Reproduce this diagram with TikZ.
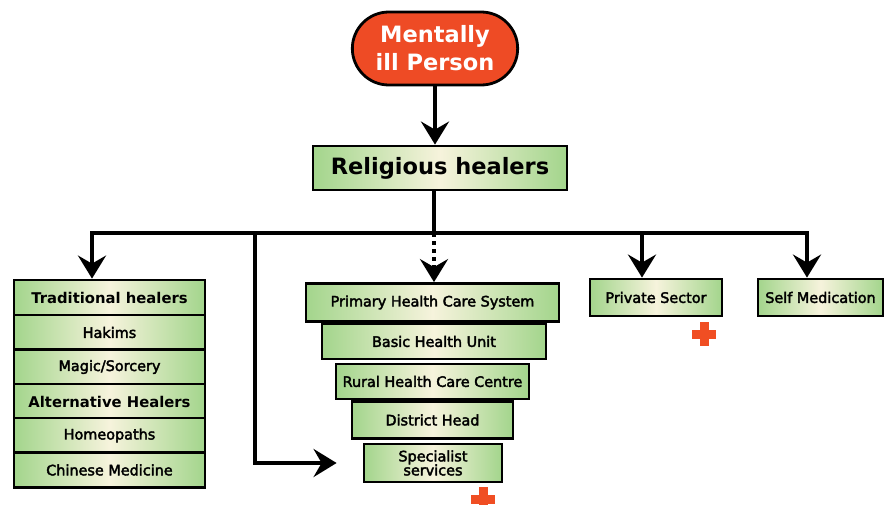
\documentclass[tikz,border=0pt]{standalone}
\usepackage{fontspec}
\setmainfont{DejaVu Sans}
\newfontfamily\medfont[FakeBold=2.6]{DejaVu Sans}
\usetikzlibrary{arrows.meta,shapes.misc,calc}
\definecolor{pillred}{HTML}{EE4B25}
\definecolor{boxgreen}{HTML}{A3D58C}
\definecolor{boxcream}{HTML}{F6F3DC}
\definecolor{crossred}{HTML}{F04E23}
\newcommand{\redplus}[1]{%
  \fill[crossred] ($(#1)+(-12,-4.5)$) rectangle ++(24,9);
  \fill[crossred] ($(#1)+(-4.5,-12)$) rectangle ++(9,24);}

\begin{document}
\begin{tikzpicture}[x=1pt,y=-1pt]
		\useasboundingbox (0,0) rectangle (892,504);
		\tikzstyle{box}=[draw=black,line width=2.8pt,left color=boxgreen,right color=boxgreen,middle color=boxcream,inner sep=0pt,align=center,font=\medfont\fontsize{14.4}{14}\selectfont]
		\tikzstyle{head}=[font=\bfseries\fontsize{14.8}{16}\selectfont]
		\tikzstyle{wire}=[line width=4pt]
		\tikzstyle{link}=[line width=4pt,-{Stealth[length=23pt,width=28pt,inset=8pt]}]
		% top of the chart
		\node[draw=black,line width=2.8pt,fill=pillred,rounded rectangle,minimum width=172pt,minimum height=73pt,text=white,align=center,font=\bfseries\fontsize{22.5}{28}\selectfont] (mip) at (435,48.5) {Mentally\\ill Person};
		\node[box,minimum width=254pt,minimum height=44pt,font=\bfseries\fontsize{22.5}{24}\selectfont] (rel) at (440,168) {Religious healers};
		% traditional and alternative healers
		\node[box,head,minimum width=191pt,minimum height=35pt] (trad) at (109.5,297.5) {Traditional healers};
		\node[box,minimum width=191pt,minimum height=35pt] (hakim) at (109.5,332.5) {Hakims};
		\node[box,minimum width=191pt,minimum height=35pt] (magic) at (109.5,367) {Magic/Sorcery};
		\node[box,head,minimum width=191pt,minimum height=35pt] (alt) at (109.5,401.5) {Alternative Healers};
		\node[box,minimum width=191pt,minimum height=35pt] (homeo) at (109.5,435.5) {Homeopaths};
		\node[box,minimum width=191pt,minimum height=35pt] (chin) at (109.5,470) {Chinese Medicine};
		% health care system
		\node[box,minimum width=253pt,minimum height=38pt] (prim) at (432.5,302.5) {Primary Health Care System};
		\node[box,minimum width=224pt,minimum height=35pt] (bhu) at (434,341.5) {Basic Health Unit};
		\node[box,minimum width=193pt,minimum height=35pt] (rural) at (432.5,381.5) {Rural Health Care Centre};
		\node[box,minimum width=161pt,minimum height=37pt] (dist) at (432.5,420) {District Head};
		\node[box,minimum width=138pt,minimum height=38pt] (spec) at (433,463) {Specialist\\services};
		% others
		\node[box,minimum width=132pt,minimum height=37pt] (priv) at (656,297.5) {Private Sector};
		\node[box,minimum width=125pt,minimum height=37pt] (self) at (820.5,297.5) {Self Medication};
		% connectors
		\coordinate (bar) at (434,233);
		\coordinate (jmid) at (255,233);
		\draw[link] (mip.south) -- (mip.south |- rel.north);
		\draw[wire] (bar |- rel.south) -- (bar);
		\draw[link] (bar) -| ($(trad.north)+(-17.5,0)$);
		\draw[link] (bar) -| ($(priv.north)+(-14,0)$);
		\draw[link] (bar) -| ($(self.north)+(-13.5,0)$);
		\draw[link,shorten >=26pt] (jmid) |- (spec.west);
		\draw[link,dash pattern=on 4pt off 4pt] (bar) -- (bar |- prim.north);
		% red crosses
		\coordinate (pplus) at ($(priv.south east)+(-19,17)$);
		\coordinate (splus) at ($(spec.south east)+(-20,16)$);
		\redplus{pplus}
		\redplus{splus}
	\end{tikzpicture}
\end{document}
